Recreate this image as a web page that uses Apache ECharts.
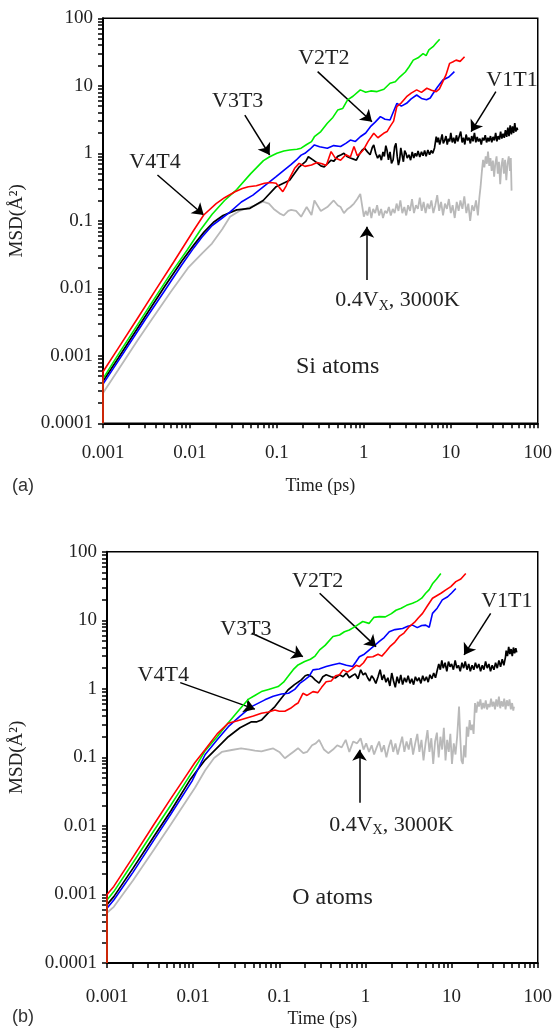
<!DOCTYPE html>
<html><head><meta charset="utf-8">
<script src="https://cdn.jsdelivr.net/npm/echarts@6/dist/echarts.min.js"></script>
<style>html,body{margin:0;padding:0;background:#fff}#c{width:555px;height:1029px}</style>
</head><body><div id="c"></div><script>
// ---------- Panel (a): Si atoms, [time ps, MSD A^2] ----------
const siGreen = [[0.001,0.0001],[0.001,0.00046],[0.0015,0.00105],[0.0025,0.0029],[0.004,0.0074],[0.006,0.0165],[0.0093,0.037],[0.0132,0.073],[0.018,0.125],[0.025,0.2],[0.0345,0.29],[0.05,0.5],[0.07,0.78],[0.0826,0.89],[0.1,1.0],[0.12,1.08],[0.14,1.12],[0.17,1.15],[0.19,1.19],[0.22,1.35],[0.25,1.49],[0.27,1.76],[0.32,2.1],[0.38,2.78],[0.44,3.4],[0.5,4.37],[0.57,4.6],[0.65,6.2],[0.75,7.0],[0.91,8.7],[1.05,8.0],[1.2,8.4],[1.42,8.2],[1.7,8.9],[2.0,10.9],[2.3,11.5],[2.6,13.6],[3.0,16],[3.3,19],[3.7,24],[4.2,26],[4.8,30],[5.2,28],[5.6,34],[6.25,38],[6.8,43],[7.45,49]];
const siBlue = [[0.001,0.0001],[0.001,0.00038],[0.0015,0.00084],[0.003,0.0033],[0.005,0.0088],[0.008,0.022],[0.0111,0.04],[0.0137,0.057],[0.018,0.085],[0.0235,0.11],[0.029,0.136],[0.039,0.19],[0.053,0.24],[0.072,0.33],[0.098,0.45],[0.122,0.57],[0.145,0.68],[0.166,0.79],[0.19,0.94],[0.21,1.0],[0.24,1.15],[0.27,1.33],[0.31,1.25],[0.38,1.19],[0.45,1.3],[0.54,1.26],[0.62,1.4],[0.7,1.57],[0.8,1.5],[0.91,1.76],[1.05,2.0],[1.19,2.48],[1.35,2.9],[1.55,3.5],[1.75,3.2],[2.0,3.12],[2.2,4.2],[2.4,5.5],[2.7,5.0],[3.1,5.5],[3.5,6.4],[4.05,7.3],[4.6,6.5],[5.26,6.2],[5.8,6.6],[6.25,7.7],[7.0,9.5],[8.1,12.2],[9.5,13.5],[11.0,16.2]];
const siRed = [[0.001,0.0001],[0.001,0.00058],[0.0015,0.0013],[0.0025,0.0036],[0.004,0.0093],[0.0065,0.0245],[0.0111,0.073],[0.0144,0.122],[0.02,0.18],[0.025,0.22],[0.033,0.27],[0.04,0.3],[0.047,0.32],[0.058,0.33],[0.072,0.36],[0.085,0.37],[0.098,0.36],[0.107,0.31],[0.117,0.27],[0.128,0.33],[0.14,0.43],[0.16,0.6],[0.18,0.71],[0.21,0.64],[0.25,0.67],[0.29,0.73],[0.33,0.7],[0.37,0.66],[0.42,1.06],[0.47,0.85],[0.54,0.79],[0.62,0.95],[0.7,0.88],[0.77,1.26],[0.84,0.92],[0.91,1.0],[1.0,1.15],[1.12,1.5],[1.3,1.98],[1.45,1.7],[1.69,1.98],[1.85,2.1],[2.0,2.48],[2.2,3.0],[2.39,4.9],[2.7,5.6],[3.1,6.9],[3.5,7.8],[4.05,8.7],[4.6,8.0],[5.3,9.2],[6.0,8.6],[6.8,8.2],[7.4,9.0],[8.1,11.5],[8.8,14.5],[9.7,21.5],[10.5,22.5],[11.5,24],[12.8,23],[14.4,27]];
const siBlack = [[0.001,0.0001],[0.001,0.00042],[0.0015,0.00093],[0.003,0.0037],[0.005,0.0102],[0.008,0.025],[0.0111,0.044],[0.0145,0.068],[0.019,0.097],[0.024,0.12],[0.0345,0.145],[0.049,0.153],[0.0695,0.2],[0.098,0.32],[0.14,0.4],[0.181,0.63],[0.215,0.76],
[0.23,0.89],[0.26,0.8],[0.29,0.72],[0.32,0.65],[0.35,0.63],[0.38,0.7],[0.42,0.79],[0.45,0.76],[0.5,0.9],[0.55,0.95],[0.59,1.0],[0.64,0.9],[0.7,0.85],[0.76,0.82],[0.82,0.79],[0.88,0.95],[0.95,1.1],[1.02,1.19],[1.1,1.05],[1.18,0.95],[1.25,1.22],[1.3,1.33],[1.37,1.0],[1.44,0.85],[1.52,0.95],[1.59,0.79],[1.66,1.05],[1.72,0.9],[1.79,1.3],[1.85,1.1],[1.92,0.8],[2.0,1.05],[2.08,0.71],[2.17,0.8],[2.26,1.25],[2.34,1.4],[2.42,0.9],[2.5,0.67],[2.58,0.8],[2.66,1.2],[2.75,0.95],[2.85,0.75],[2.95,1.1],[3.05,1.0],[3.15,0.85],[3.3,0.95],[3.45,0.79],[3.6,1.05],[3.75,0.85],[3.9,1.0],[4.05,0.9],[4.2,1.08],[4.4,0.88],[4.6,1.05],[4.8,0.92],[5.0,1.1],[5.2,0.9],[5.45,1.12],[5.7,0.95],[5.95,1.1],[6.2,1.0],[6.5,1.2],[6.8,1.76],
[7.0,1.45],[7.2,1.7],[7.45,1.35],[7.7,1.6],[7.95,1.9],[8.2,1.4],[8.5,1.55],[8.8,1.8],[9.1,1.35],[9.4,1.65],[9.7,1.5],[10.0,2.0],[10.4,1.45],[10.8,1.7],[11.2,1.4],[11.6,1.85],[12.0,1.5],[12.5,1.6],[13.0,2.1],[13.5,1.45],[14.0,1.7],[14.5,1.35],[15.0,1.9],[15.6,1.55],[16.2,1.7],[16.8,1.4],[17.4,1.8],[18.0,1.5],[18.7,2.0],[19.4,1.45],[20.1,1.75],[20.8,1.5],[21.6,1.65],[22.4,1.35],[23.2,1.7],[24.0,1.55],[24.9,1.85],[25.8,1.45],[26.7,1.7],[27.6,1.5],[28.6,1.8],[29.6,1.45],[30.6,1.75],[31.7,1.55],[32.8,2.0],[33.9,1.5],[35.0,1.8],[36.2,1.6],[37.4,2.1],[38.6,1.65],[39.9,1.95],[41.2,1.7],[42.5,2.2],[43.9,1.75],[45.3,2.4],[46.7,1.8],[48.2,2.6],[49.7,1.9],[51.2,2.5],[52.8,2.0],[54.4,2.8],[56.0,2.1],[57.7,2.4],[58.6,2.2]];
const siGray = [[0.001,0.0001],[0.001,0.00028],[0.0015,0.00062],[0.0025,0.0017],[0.0036,0.0034],[0.006,0.0088],[0.0095,0.02],[0.0138,0.033],[0.0179,0.046],[0.0235,0.075],[0.0289,0.115],[0.037,0.14],[0.0448,0.153],[0.055,0.168],[0.069,0.192],[0.081,0.18],[0.092,0.15],[0.107,0.129],[0.12,0.12],[0.135,0.14],[0.146,0.145],[0.166,0.14],[0.19,0.115],[0.22,0.16],[0.25,0.122],[0.27,0.2],[0.32,0.14],[0.38,0.16],[0.45,0.2],[0.5,0.17],[0.54,0.16],[0.59,0.13],[0.65,0.15],[0.7,0.16],[0.77,0.18],[0.84,0.21],[0.91,0.25],[1.0,0.115],
[1.05,0.14],[1.1,0.12],[1.16,0.16],[1.22,0.11],[1.28,0.15],[1.35,0.13],[1.42,0.17],[1.5,0.12],[1.58,0.15],[1.66,0.11],[1.75,0.14],[1.84,0.13],[1.94,0.16],[2.04,0.12],[2.15,0.15],[2.26,0.13],[2.38,0.18],[2.5,0.14],[2.63,0.2],[2.77,0.13],[2.92,0.16],[3.07,0.12],[3.23,0.17],[3.4,0.14],[3.58,0.21],[3.77,0.13],[3.97,0.17],[4.18,0.15],[4.4,0.22],[4.63,0.14],[4.87,0.19],[5.13,0.13],[5.4,0.18],[5.68,0.15],[5.98,0.2],[6.3,0.13],[6.63,0.17],[6.98,0.24],[7.35,0.14],[7.73,0.19],[8.14,0.12],[8.57,0.18],[9.02,0.15],[9.5,0.21],[10.0,0.13],[10.5,0.17],[11.1,0.11],[11.7,0.19],[12.3,0.14],[12.9,0.2],[13.6,0.15],[14.3,0.23],[15.1,0.13],[15.9,0.18],[16.7,0.1],[17.6,0.17],[18.5,0.14],[19.5,0.2],[20.5,0.12],[21.3,0.22],
[22.0,0.32],[22.8,0.55],[23.5,0.8],[24.3,0.62],[25.2,0.9],[26.0,0.7],[26.8,1.06],[27.7,0.65],[28.6,0.85],[29.5,0.55],[30.5,0.78],[31.5,0.45],[32.5,0.7],[33.6,0.9],[34.7,0.5],[35.8,0.75],[37.0,0.35],[38.2,0.65],[39.5,0.85],[40.8,0.5],[42.1,0.8],[43.5,0.4],[44.9,0.7],[46.4,0.9],[47.9,0.55],[49.0,0.85],[50.0,0.28]];

// ---------- Panel (b): O atoms ----------
const oGreen = [[0.001,0.0001],[0.001,0.00083],[0.0012,0.0011],[0.002,0.0029],[0.0035,0.0085],[0.0055,0.02],[0.0085,0.047],[0.0115,0.085],[0.0138,0.125],[0.019,0.2],[0.0256,0.32],[0.0345,0.5],[0.0435,0.7],[0.052,0.8],[0.062,0.91],[0.075,0.98],[0.097,1.08],[0.112,1.25],[0.126,1.51],[0.145,1.9],[0.165,2.23],[0.197,2.5],[0.23,2.7],[0.26,3.0],[0.294,3.7],[0.34,4.3],[0.42,5.8],[0.5,6.1],[0.57,6.8],[0.65,7.2],[0.75,8.0],[0.93,9.6],[1.1,9.0],[1.25,11.0],[1.45,11.3],[1.7,11.2],[2.0,12.5],[2.26,14],[2.6,15],[3.0,16.5],[3.52,17.7],[4.0,19],[4.5,21],[5.0,24.8],[5.5,28],[6.0,34],[6.7,40],[7.5,48]];
const oBlue = [[0.001,0.0001],[0.001,0.00063],[0.0012,0.00083],[0.002,0.0021],[0.0035,0.0062],[0.0055,0.0148],[0.0097,0.045],[0.0138,0.11],[0.019,0.18],[0.0256,0.28],[0.035,0.4],[0.0476,0.55],[0.068,0.69],[0.085,0.78],[0.106,0.84],[0.128,0.86],[0.151,0.98],[0.173,1.2],[0.197,1.35],[0.22,1.5],[0.246,1.89],[0.29,1.95],[0.35,2.11],[0.42,2.25],[0.5,2.36],[0.6,2.2],[0.71,2.11],[0.78,2.5],[0.85,2.94],[0.97,3.2],[1.11,3.7],[1.28,4.3],[1.45,4.9],[1.65,5.6],[1.89,6.8],[2.2,7.3],[2.7,7.6],[3.1,8.2],[3.52,8.5],[4.0,7.8],[4.5,8.4],[5.0,8.5],[5.5,7.9],[6.0,12.6],[6.8,15],[7.8,19.8],[9.0,22],[10.0,25],[11.2,29]];
const oRed = [[0.001,0.0001],[0.001,0.001],[0.0012,0.00131],[0.002,0.0035],[0.0035,0.0105],[0.0055,0.025],[0.0077,0.047],[0.0105,0.084],[0.0138,0.13],[0.019,0.22],[0.0256,0.315],[0.032,0.34],[0.04,0.37],[0.05,0.4],[0.062,0.44],[0.075,0.46],[0.089,0.49],[0.1,0.47],[0.116,0.47],[0.135,0.52],[0.151,0.58],[0.165,0.62],[0.188,0.86],[0.21,0.8],[0.246,0.91],[0.28,0.88],[0.31,1.05],[0.35,1.27],[0.4,1.3],[0.45,1.55],[0.5,1.6],[0.55,1.89],[0.62,1.75],[0.7,1.95],[0.78,2.2],[0.85,2.11],[0.95,2.4],[1.05,2.9],[1.22,2.94],[1.4,3.2],[1.55,3.0],[1.73,3.5],[1.95,4.2],[2.2,4.8],[2.47,5.8],[2.8,6.5],[3.23,8.1],[3.7,9.3],[4.1,10.8],[4.6,12.6],[5.2,16],[6.0,20.9],[6.8,23],[7.6,25],[8.57,27.7],[9.8,31],[11.2,36.6],[12.8,40],[14.6,48]];
const oBlack = [[0.001,0.0001],[0.001,0.00071],[0.0012,0.00093],[0.002,0.0024],[0.0035,0.007],[0.0055,0.0165],[0.0092,0.047],[0.0138,0.092],[0.0256,0.2],[0.035,0.27],[0.0476,0.33],[0.055,0.33],[0.062,0.35],[0.075,0.45],[0.089,0.55],[0.105,0.72],[0.126,0.96],[0.15,1.15],[0.18,1.35],[0.2,1.55],[0.215,1.6],[0.24,1.5],[0.26,1.35],[0.29,1.21],[0.32,1.5],[0.35,1.6],[0.4,1.5],[0.45,1.44],[0.5,1.6],
[0.55,1.5],[0.6,1.7],[0.65,1.45],[0.7,1.55],[0.76,1.65],[0.82,1.4],[0.88,1.89],[0.94,1.6],[1.0,1.7],[1.06,1.45],[1.12,1.3],[1.18,1.55],[1.25,1.4],[1.32,1.2],[1.4,1.5],[1.48,1.9],[1.56,1.35],[1.64,1.6],[1.73,1.25],[1.82,1.45],[1.92,1.1],[2.02,1.7],[2.12,1.3],[2.22,1.05],[2.33,1.5],[2.45,1.2],[2.57,1.6],[2.7,1.15],[2.84,1.45],[2.98,1.25],[3.13,1.55],[3.29,1.2],[3.45,1.4],[3.62,1.15],[3.8,1.5],[3.99,1.3],[4.19,1.45],[4.4,1.2],[4.62,1.55],[4.85,1.3],[5.1,1.5],[5.35,1.25],[5.6,1.6],[5.9,1.4],[6.2,1.7],[6.5,1.45],[6.8,1.85],
[7.1,2.3],[7.4,1.9],[7.7,2.6],[8.0,2.0],[8.4,2.4],[8.8,1.8],[9.2,2.5],[9.6,2.1],[10.0,2.3],[10.5,1.9],[11.0,2.6],[11.5,2.0],[12.0,2.2],[12.6,1.8],[13.2,2.4],[13.8,2.0],[14.4,2.5],[15.1,1.9],[15.8,2.3],[16.5,1.8],[17.3,2.2],[18.1,1.9],[18.9,2.4],[19.8,2.0],[20.7,2.3],[21.7,1.8],[22.7,2.2],[23.7,1.9],[24.8,2.5],[25.9,2.0],[27.1,2.3],[28.3,1.8],[29.6,2.2],[31.0,1.9],[32.4,2.4],[33.9,2.0],[35.4,2.6],[37.0,2.1],[38.7,2.7],[40.4,2.2],[42.2,2.9],[43.0,3.6],[44.5,3.0],[46.0,4.1],[47.5,3.2],[49.0,3.8],[50.6,3.0],[52.2,4.0],[53.9,3.3],[55.6,3.9],[57.0,3.4]];
const oGray = [[0.001,0.0001],[0.001,0.00054],[0.0012,0.00066],[0.002,0.0016],[0.0035,0.0045],[0.0055,0.0105],[0.0105,0.036],[0.0138,0.065],[0.0175,0.098],[0.0215,0.12],[0.028,0.128],[0.036,0.135],[0.045,0.13],[0.052,0.125],[0.062,0.122],[0.074,0.13],[0.085,0.135],[0.1,0.12],[0.116,0.097],[0.13,0.108],[0.145,0.12],[0.165,0.136],[0.19,0.115],[0.21,0.12],[0.24,0.15],[0.265,0.16],[0.29,0.18],[0.33,0.13],[0.37,0.115],[0.42,0.13],[0.47,0.15],[0.53,0.14],[0.59,0.18],[0.65,0.12],[0.72,0.17],[0.8,0.16],[0.88,0.19],
[0.95,0.13],[1.02,0.16],[1.1,0.12],[1.18,0.15],[1.26,0.11],[1.35,0.14],[1.44,0.17],[1.54,0.12],[1.64,0.15],[1.75,0.1],[1.86,0.14],[1.98,0.18],[2.1,0.12],[2.23,0.16],[2.37,0.11],[2.52,0.15],[2.67,0.2],[2.83,0.12],[3.0,0.17],[3.18,0.13],[3.37,0.19],[3.57,0.11],[3.78,0.16],[4.0,0.22],[4.23,0.12],[4.47,0.18],[4.72,0.09],[4.98,0.16],[5.25,0.25],[5.53,0.12],[5.82,0.19],[6.12,0.08],[6.43,0.17],[6.75,0.23],[7.08,0.1],[7.42,0.2],[7.77,0.13],[8.13,0.27],[8.5,0.09],[8.88,0.18],[9.27,0.12],[9.67,0.22],[10.1,0.08],[10.6,0.16],[11.1,0.11],[11.6,0.2],[12.2,0.55],[12.6,0.2],[13.0,0.09],[13.5,0.08],[14.0,0.15],[14.5,0.1],[15.0,0.28],[15.6,0.2],[16.2,0.35],[16.8,0.25],[17.4,0.3],[18.0,0.22],[18.7,0.62],[19.4,0.45],[20.1,0.65],[20.8,0.55],[21.6,0.7],[22.4,0.5],[23.2,0.62],[24.0,0.52],[24.9,0.68],[25.8,0.5],[26.7,0.6],[27.7,0.54],[28.7,0.72],[29.7,0.55],[30.8,0.65],[31.9,0.5],[33.0,0.7],[34.2,0.55],[35.4,0.77],[36.7,0.52],[38.0,0.66],[39.4,0.55],[40.8,0.72],[42.3,0.5],[43.8,0.68],[45.4,0.56],[47.0,0.7],[48.7,0.5],[50.4,0.62],[52.0,0.48],[53.0,0.55]];

// ---------- Annotations (data coordinates) ----------
const siLabels = [
  {text:'V2T2', t:0.347, m:25.8, size:22},
  {text:'V1T1', t:50.6, m:12.2, size:22},
  {text:'V3T3', t:0.0354, m:5.96, size:22},
  {text:'V4T4', t:0.00396, m:0.743, size:22},
  {text:'0.4V{sub|X}, 3000K', t:2.44, m:0.0067, size:22},
  {text:'Si atoms', t:0.5, m:0.00069, size:24}
];
const siArrows = [[0.294,16.2,1.24,2.94],[33,8.2,17.1,2.09],[0.0428,3.69,0.0826,0.944],[0.00423,0.477,0.0144,0.122],[1.084,0.0133,1.084,0.0818]];
const oLabels = [
  {text:'V2T2', t:0.279, m:37.4, size:22},
  {text:'V1T1', t:43.8, m:19.1, size:22},
  {text:'V3T3', t:0.041, m:7.47, size:22},
  {text:'V4T4', t:0.0045, m:1.6, size:22},
  {text:'0.4V{sub|X}, 3000K', t:2.0, m:0.0104, size:22},
  {text:'O atoms', t:0.415, m:0.000895, size:24}
];
const oArrows = [[0.294,24.8,1.33,4.12],[28.4,12.6,13.95,3.12],[0.0478,6.46,0.188,2.95],[0.00708,1.23,0.0521,0.505],[0.853,0.0217,0.853,0.129]];

const decadeLabels = [0.0001,0.001,0.01,0.1,1,10,100];
const tickMultipliers = [1,2,3,4,5,6,7,8,9];

const SERIF = '"Liberation Serif","Times New Roman",serif';
function tickValues(lo, hi){
  const out=[];
  decadeLabels.forEach(d=>tickMultipliers.forEach(k=>{const v=k*d; if(v>=lo*0.9999 && v<=hi*1.0001) out.push(v);}));
  return out;
}
function fmt(v){ const e=Math.round(Math.log10(v)); return e>=0 ? String(Math.round(Math.pow(10,e))) : '0.'+'0'.repeat(-e-1)+'1'; }

function xAx(gi, gap, margin){
  return {type:'log', logBase:10, gridIndex:gi, min:0.001, max:100,
    name:'Time (ps)', nameLocation:'middle', nameGap:gap,
    nameTextStyle:{fontFamily:SERIF, fontSize:18, color:'#222'},
    axisLine:{show:true, lineStyle:{color:'#000', width:2}},
    axisTick:{show:true, length:5, lineStyle:{color:'#000', width:1.5}, customValues:tickValues(0.001,100)},
    axisLabel:{show:true, margin:margin, fontFamily:SERIF, fontSize:19, color:'#222', formatter:fmt, customValues:decadeLabels.filter(v=>v>=0.001)},
    splitLine:{show:false}, minorTick:{show:false}};
}
function yAx(gi, gap){
  return {type:'log', logBase:10, gridIndex:gi, min:0.0001, max:100,
    name:'MSD(Å²)', nameLocation:'middle', nameGap:gap,
    nameTextStyle:{fontFamily:SERIF, fontSize:19, color:'#222'},
    axisLine:{show:true, lineStyle:{color:'#000', width:2}},
    axisTick:{show:true, length:5, lineStyle:{color:'#000', width:1.5}, customValues:tickValues(0.0001,100)},
    axisLabel:{show:true, margin:10, fontFamily:SERIF, fontSize:19, color:'#222', formatter:fmt, customValues:decadeLabels},
    splitLine:{show:false}, minorTick:{show:false}};
}
function line(gi, data, color, width, z){
  return {type:'line', xAxisIndex:gi, yAxisIndex:gi, data:data, symbol:'none', showSymbol:false,
    lineStyle:{color:color, width:width}, itemStyle:{color:color}, z:z, silent:true, animation:false, emphasis:{disabled:true}};
}
function annot(gi, labels, arrows){
  return {type:'line', xAxisIndex:gi, yAxisIndex:gi, data:[], symbol:'none', silent:true, animation:false, z:10,
    itemStyle:{color:'#000'}, lineStyle:{color:'#000'},
    markLine:{silent:true, animation:false, symbol:['none','arrow'], symbolSize:11,
      itemStyle:{color:'#000'},
      lineStyle:{color:'#000', width:1.5, type:'solid'}, label:{show:false}, emphasis:{disabled:true},
      data:arrows.map(a=>[{coord:[a[0],a[1]], symbol:'none'},{coord:[a[2],a[3]], symbol:'arrow', symbolSize:11}])},
    markPoint:{silent:true, animation:false, symbol:'circle', symbolSize:1, itemStyle:{color:'rgba(0,0,0,0)'},
      label:{show:true, position:'inside', formatter:p=>p.name, fontFamily:SERIF, color:'#222',
        rich:{sub:{fontFamily:SERIF, fontSize:14, color:'#222', padding:[12,0,0,0]}}},
      data:labels.map(l=>({name:l.text, coord:[l.t,l.m], label:{fontSize:l.size}}))}
  };
}

const chart = echarts.init(document.getElementById('c'), null, {renderer:'canvas'});
chart.setOption({
  animation:false,
  backgroundColor:'#fff',
  grid:[
    {left:100, top:18.3, width:439, height:405, show:true, borderColor:'#000', borderWidth:1.5, backgroundColor:'transparent', containLabel:false},
    {left:106.5, top:551.7, width:432.5, height:411.3, show:true, borderColor:'#000', borderWidth:1.5, backgroundColor:'transparent', containLabel:false}
  ],
  xAxis:[xAx(0,54,20), xAx(1,47,25)],
  yAxis:[yAx(0,76), yAx(1,80)],
  series:[
    line(0, siGray, '#b9b9b9', 1.8, 2),
    line(0, siBlack, '#000000', 1.7, 3),
    line(0, siBlue, '#0000ff', 1.6, 4),
    line(0, siGreen, '#00ee00', 1.6, 5),
    line(0, siRed, '#ff0000', 1.6, 6),
    annot(0, siLabels, siArrows),
    line(1, oGray, '#b9b9b9', 1.8, 2),
    line(1, oBlack, '#000000', 1.7, 3),
    line(1, oBlue, '#0000ff', 1.6, 4),
    line(1, oGreen, '#00ee00', 1.6, 5),
    line(1, oRed, '#ff0000', 1.6, 6),
    annot(1, oLabels, oArrows)
  ],
  graphic:[
    {type:'text', left:12, top:477, style:{text:'(a)', font:'18px "Liberation Sans", Arial, sans-serif', fill:'#333'}},
    {type:'text', left:12, top:1008, style:{text:'(b)', font:'18px "Liberation Sans", Arial, sans-serif', fill:'#333'}}
  ]
});
</script></body></html>
